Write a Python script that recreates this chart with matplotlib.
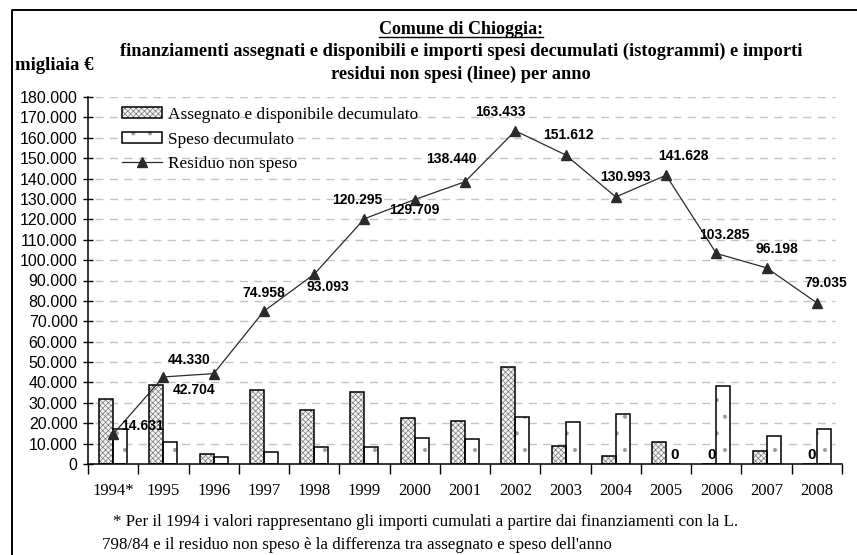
import matplotlib.pyplot as plt
from matplotlib.lines import Line2D
from matplotlib.patches import Patch
from matplotlib.legend_handler import HandlerTuple
from matplotlib.ticker import FuncFormatter
import numpy as np

# importi in migliaia di euro
anni = ['1994*', '1995', '1996', '1997', '1998', '1999', '2000', '2001',
        '2002', '2003', '2004', '2005', '2006', '2007', '2008']
assegnato = [32000, 38700, 5100, 36400, 26700, 35400, 22400, 21200,
             47800, 8800, 3900, 10640, 0, 6500, 0]
speso = [17370, 10630, 3470, 5770, 8570, 8200, 12990, 12470,
         22810, 20620, 24520, 0, 38340, 13590, 17160]
residuo = [14631, 42704, 44330, 74958, 93093, 120295, 129709, 138440,
           163433, 151612, 130993, 141628, 103285, 96198, 79035]

# spostamento delle etichette del residuo (pixel, x e y)
off_etichette = [(29, 8), (31, -13), (-25, 14), (0, 18), (14, -13), (-7, 19),
                 (0, -10), (-14, 23), (-15, 19), (3, 20), (10, 20), (17, 19),
                 (8, 18), (10, 19), (9, 20)]

SERIF = 'Liberation Serif'
SANS = 'Liberation Sans'

plt.rcParams['hatch.linewidth'] = 0.5

fig = plt.figure(figsize=(8.57, 5.55), dpi=100)
ax = fig.add_axes([88 / 857, 1 - 464 / 555, 754 / 857, 367 / 555])

x = np.arange(len(anni))
w = 0.278

HATCH_ASS = dict(facecolor='#f4f4f4', edgecolor='#7a7a7a', hatch='xxxxxx', linewidth=0)
HATCH_SPE = dict(facecolor='white', edgecolor='#9a9a9a', hatch='.', linewidth=0)

# istogrammi: prima il tratteggio, poi il contorno nero
ax.bar(x - w / 2, assegnato, w, zorder=2, **HATCH_ASS)
ax.bar(x - w / 2, assegnato, w, fill=False, edgecolor='black', linewidth=1.1, zorder=3)
ax.bar(x + w / 2, speso, w, zorder=2, **HATCH_SPE)
ax.bar(x + w / 2, speso, w, fill=False, edgecolor='black', linewidth=1.1, zorder=3)

# valori nulli
for i in range(len(anni)):
    for pos, val in ((x[i] - w / 2, assegnato[i]), (x[i] + w / 2, speso[i])):
        if val == 0:
            ax.annotate('0', (pos, 0), xytext=(2, 9), textcoords='offset pixels',
                        ha='center', va='center', fontsize=11, fontweight='bold',
                        family=SANS, zorder=5)

# linea del residuo
ax.plot(x, residuo, color='#2a2a2a', linewidth=0.9, marker='^', markersize=7,
        markerfacecolor='#2a2a2a', markeredgecolor='#2a2a2a', zorder=4)

for i, v in enumerate(residuo):
    dx, dy = off_etichette[i]
    ax.annotate(f"{v:,}".replace(',', '.'), (x[i], v), xytext=(dx, dy),
                textcoords='offset pixels', ha='center', va='center',
                fontsize=10, fontweight='bold', family=SANS, zorder=5)

# griglia tratteggiata
for g in range(10000, 180001, 10000):
    ax.plot([-0.36, 14.36], [g, g], color='#c4c4c4', linewidth=1,
            linestyle=(0, (5.8, 4.6)), zorder=1)

ax.set_xlim(-0.5, 14.5)
ax.set_ylim(0, 180000)
ax.set_yticks(range(0, 180001, 10000))
ax.yaxis.set_major_formatter(FuncFormatter(lambda v, p: f"{int(v):,}".replace(',', '.')))
ax.tick_params(axis='y', direction='inout', length=7, width=1, labelsize=11.5, pad=4)
for t in ax.get_yticklabels():
    t.set_family(SANS)

ax.set_xticks(np.arange(-0.5, 15, 1))
ax.set_xticklabels([])
ax.set_xticks(x, minor=True)
ax.set_xticklabels(anni, minor=True, family=SERIF, fontsize=12)
ax.tick_params(axis='x', which='major', direction='out', length=7, width=1)
ax.tick_params(axis='x', which='minor', length=0, pad=13.5)

for s in ('top', 'right'):
    ax.spines[s].set_visible(False)
for s in ('left', 'bottom'):
    ax.spines[s].set_linewidth(1.1)

# legenda
h_ass = (Patch(**HATCH_ASS), Patch(fill=False, edgecolor='black', linewidth=1.1))
h_spe = (Patch(**HATCH_SPE), Patch(fill=False, edgecolor='black', linewidth=1.1))
h_res = Line2D([], [], color='#2a2a2a', linewidth=0.9, marker='^', markersize=7)
ax.legend([h_ass, h_spe, h_res],
          ['Assegnato e disponibile decumulato', 'Speso decumulato', 'Residuo non speso'],
          handler_map={tuple: HandlerTuple(ndivide=1)},
          loc='upper left', bbox_to_anchor=(122 / 857, 1 - 107 / 555),
          bbox_transform=fig.transFigure, frameon=False, borderpad=0,
          borderaxespad=0, handlelength=2.3, handleheight=0.6,
          handletextpad=0.4, labelspacing=0.5, prop={'family': SERIF, 'size': 12.4})

# titolo
t1 = fig.text(461 / 857, 1 - 29 / 555, 'Comune di Chioggia:', ha='center', va='center',
              family=SERIF, fontweight='bold', fontsize=13)
fig.text(461 / 857, 1 - 51 / 555,
         'finanziamenti assegnati e disponibili e importi spesi decumulati (istogrammi) e importi',
         ha='center', va='center', family=SERIF, fontweight='bold', fontsize=13.2)
fig.text(461 / 857, 1 - 74 / 555, 'residui non spesi (linee) per anno',
         ha='center', va='center', family=SERIF, fontweight='bold', fontsize=13.2)
fig.text(15 / 857, 1 - 65 / 555, 'migliaia €', ha='left', va='center',
         family=SERIF, fontweight='bold', fontsize=13.5)

# note
fig.text(113 / 857, 1 - 522 / 555,
         '* Per il 1994 i valori rappresentano gli importi cumulati a partire dai finanziamenti con la L.',
         ha='left', va='center', family=SERIF, fontsize=12.2)
fig.text(102 / 857, 1 - 545 / 555,
         "798/84 e il residuo non speso è la differenza tra assegnato e speso dell'anno",
         ha='left', va='center', family=SERIF, fontsize=12.2)

# sottolineatura del titolo
fig.canvas.draw()
bb = t1.get_window_extent()
fig.add_artist(Line2D([bb.x0, bb.x1], [bb.y0 + 1, bb.y0 + 1], transform=None,
                      color='black', linewidth=1))

# cornice esterna
fig.add_artist(Line2D([12 / 857, 12 / 857, 1.01], [-0.01, 1 - 10 / 555, 1 - 10 / 555],
                      transform=fig.transFigure, color='black', linewidth=1.4))

fig.savefig('out.png', dpi=100)
